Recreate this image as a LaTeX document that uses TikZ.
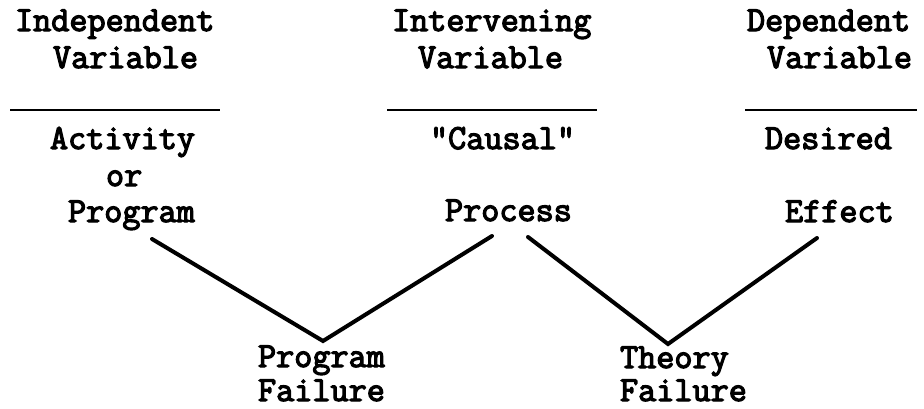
\documentclass[tikz,border=0pt]{standalone}
\usepackage{fontspec}
\setmonofont{Latin Modern Mono}[BoldFont={Latin Modern Mono},BoldFeatures={FakeBold=3.5}]
\begin{document}
\begin{tikzpicture}[x=1pt,y=-1pt,
  lbl/.style={anchor=base west,inner sep=0pt,outer sep=0pt,
    font=\ttfamily\bfseries\fontsize{35.2}{38}\selectfont},
  rule/.style={line width=2.6pt},
  link/.style={line width=4pt,line cap=round,line join=miter}]
\useasboundingbox (0,0) rectangle (924,408);

% column headings
\node[lbl] (indep)  at (15,31)  {Independent};
\node[lbl] (indepv) at (53,68)  {Variable};
\node[lbl] (inter)  at (392,31) {Intervening};
\node[lbl] (interv) at (418,68) {Variable};
\node[lbl] (dep)    at (747,31) {Dependent};
\node[lbl] (depv)   at (767,68) {Variable};

% rules under the headings
\draw[rule] (10,110)  -- (220,110);
\draw[rule] (387,110) -- (597,110);
\draw[rule] (745,110) -- (917,110);

% column entries
\node[lbl] (act)    at (50,149)  {Activity};
\node[lbl] (or)     at (106,186) {or};
\node[lbl] (prog)   at (68,222)  {Program};
\node[lbl] (causal) at (430,149) {"Causal"};
\node[lbl] (proc)   at (445,221) {Process};
\node[lbl] (des)    at (765,149) {Desired};
\node[lbl] (eff)    at (785,222) {Effect};

% failure labels (no descenders in the lower lines)
\node[lbl,text depth=0pt] (pfa) at (258,367) {Program};
\node[lbl,text depth=0pt] (pfb) at (258,401) {Failure};
\node[lbl,text depth=0pt] (tfa) at (620,368) {Theory};
\node[lbl,text depth=0pt] (tfb) at (620,401) {Failure};

% end points of the two V shapes
\coordinate (progend)  at (152,239);
\coordinate (pvertex)  at (323,341);
\coordinate (procL)    at (492,236);
\coordinate (procR)    at (528,237);
\coordinate (tvertex)  at (668,344);
\coordinate (effend)   at (817,238);

\draw[link] (progend) -- (pvertex) -- (procL);
\draw[link] (procR) -- (tvertex) -- (effend);
\end{tikzpicture}
\end{document}
